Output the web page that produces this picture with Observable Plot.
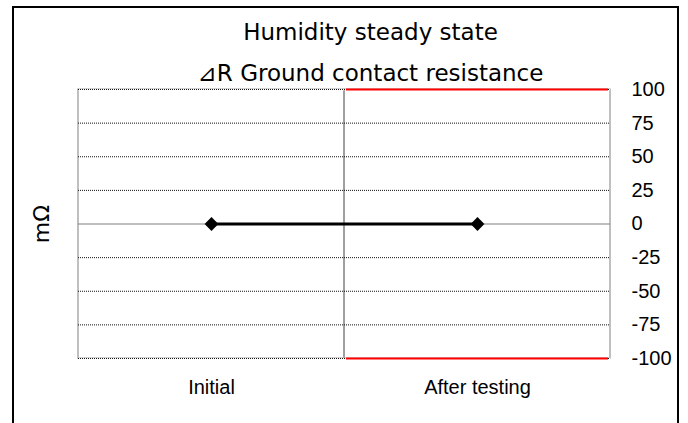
<!DOCTYPE html>
<html>
<head>
<meta charset="utf-8">
<script src="https://cdn.jsdelivr.net/npm/d3@7"></script>
<script src="https://cdn.jsdelivr.net/npm/@observablehq/plot@0.6"></script>
<style>
  html, body { margin: 0; padding: 0; background: #fff; overflow: hidden; width: 688px; height: 423px; }
  #wrap { position: relative; width: 688px; height: 423px; }
  #border { position: absolute; left: 12px; top: 6px; width: 667px; height: 500px; border: 2px solid #000; box-sizing: border-box; pointer-events: none; }
  #chart { position: absolute; left: 0; top: 0; }
</style>
</head>
<body>
<div id="wrap"><div id="chart"></div><div id="border"></div></div>
<script>
const title = "Humidity steady state";
const subtitle = "⊿R Ground contact resistance";
const yLabel = "mΩ";
const categories = ["Initial", "After testing"];
const deltaR = [0, 0];
const upperLimit = [null, 100];
const lowerLimit = [null, -100];
const yTicks = [-100, -75, -50, -25, 0, 25, 50, 75, 100];

const points = categories.map((c, i) => ({category: c, value: deltaR[i]}));
const limits = categories.flatMap((c, i) => [
  {category: c, value: upperLimit[i]},
  {category: c, value: lowerLimit[i]}
]).filter(d => d.value != null);
const grid = yTicks.filter(t => t !== 0);
const edges = [yTicks[0], yTicks[yTicks.length - 1]];

const labelFont = "'Liberation Sans', Arial, sans-serif";
const titleFont = "'DejaVu Sans', 'Noto Sans CJK JP', sans-serif";

const chart = Plot.plot({
  width: 688,
  height: 423,
  marginLeft: 78,
  marginRight: 78,
  marginTop: 89,
  marginBottom: 65,
  style: {fontFamily: labelFont, background: "transparent", overflow: "visible"},
  x: {type: "band", domain: categories, padding: 0, axis: null},
  y: {domain: [edges[0], edges[1]], axis: null},
  marks: [
    Plot.barY(categories, {x: d => d, y1: edges[0], y2: edges[1], fill: "none", stroke: "#808080", strokeWidth: 1}),
    Plot.ruleY(edges, {stroke: "#fff", strokeWidth: 1.5}),
    Plot.ruleY(grid, {stroke: "#111", strokeWidth: 1, strokeDasharray: "1,1"}),
    Plot.ruleY([0], {stroke: "#808080", strokeWidth: 1.2}),
    Plot.tickY(limits, {x: "category", y: "value", stroke: "#ff0000", strokeWidth: 2.2, inset: 2}),
    Plot.line(points, {x: "category", y: "value", stroke: "#000", strokeWidth: 3}),
    Plot.dot(points, {x: "category", y: "value", symbol: "diamond2", r: 6.2, fill: "#000", stroke: "none"}),
    Plot.axisY(yTicks, {anchor: "right", tickSize: 0, tickPadding: 21, fontSize: 20, textAnchor: "start", label: null, fill: "#000", tickFormat: d => String(d)}),
    Plot.axisX({anchor: "bottom", tickSize: 0, tickPadding: 21, fontSize: 20, label: null, fill: "#000"}),
    Plot.text([title], {frameAnchor: "top", lineAnchor: "top", dx: 26, dy: -66, fontSize: 23, fontFamily: titleFont, fill: "#000"}),
    Plot.text([subtitle], {frameAnchor: "top", lineAnchor: "top", dx: 26, dy: -25, fontSize: 23, fontFamily: titleFont, fill: "#000"}),
    Plot.text([yLabel], {frameAnchor: "left", textAnchor: "middle", lineAnchor: "middle", dx: -37, rotate: -90, fontSize: 22, fontFamily: titleFont, fill: "#000"})
  ]
});
document.getElementById("chart").appendChild(chart);
</script>
</body>
</html>
